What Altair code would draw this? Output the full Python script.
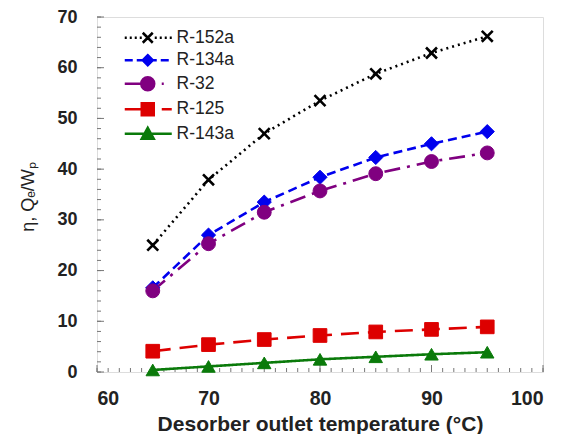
import altair as alt
import pandas as pd

# ---- data ----
series_names = ["R-152a", "R-134a", "R-32", "R-125", "R-143a"]
temps = [65, 70, 75, 80, 85, 90, 95]
r152a = [25.0, 37.9, 47.0, 53.5, 58.8, 62.9, 66.2]
r134a = [16.6, 27.0, 33.5, 38.4, 42.3, 45.0, 47.4]
r32 = [16.0, 25.3, 31.5, 35.7, 39.1, 41.5, 43.2]
r125 = [4.1, 5.4, 6.4, 7.2, 7.9, 8.4, 8.9]
r143a = [0.4, 1.1, 1.8, 2.5, 3.0, 3.5, 3.9]

x_minor_ticks = list(range(60, 101, 1))
x_major_ticks = [60, 70, 80, 90, 100]
y_minor_ticks = list(range(0, 71, 2))
y_major_ticks = [0, 10, 20, 30, 40, 50, 60, 70]

all_values = [r152a, r134a, r32, r125, r143a]
rows = []
for name, vals in zip(series_names, all_values):
    for t, v in zip(temps, vals):
        rows.append({"S": name, "T": t, "V": v})
df = pd.DataFrame(rows)

# ---- styles ----
colors = ["#000000", "#0000ee", "#800080", "#dd0000", "#0a7a0a"]
dashes = [[2, 4], [9, 5], [16, 7, 3, 7], [18, 9], [1, 0]]
W, H = 446, 355

# legend symbol paths (pixel coordinates divided by the symbol unit)
U = 7.0


def f(v):
    return f"{v / U:.3f}"


def seg(a, b):
    return f"M{f(a)},0L{f(b)},0"


def dash_run(start, end, on, off, skip=0):
    out = []
    p = start
    while p < end:
        q = min(p + on, end)
        if not (abs(p) < skip and abs(q) < skip):
            out.append(seg(p, q))
        p += on + off
    return "".join(out)


legend_paths = [
    dash_run(-23, 24, 2, 3, skip=7) + "M" + f(-5) + "," + f(-5) + "L" + f(5) + "," + f(5)
    + "M" + f(-5) + "," + f(5) + "L" + f(5) + "," + f(-5),
    dash_run(-23, 24, 8, 4) + f"M0,{f(-5)}L{f(5)},0L0,{f(5)}L{f(-5)},0Z",
    seg(-23, 7) + seg(14, 16)
    + f"M{f(6.5)},0A{f(6.5)},{f(6.5)},0,1,1,{f(-6.5)},0A{f(6.5)},{f(6.5)},0,1,1,{f(6.5)},0Z",
    seg(-23, 6) + seg(14, 24) + f"M{f(-6)},{f(-6)}L{f(6)},{f(-6)}L{f(6)},{f(6)}L{f(-6)},{f(6)}Z",
    seg(-23, 24) + f"M0,{f(-6)}L{f(6)},{f(5)}L{f(-6)},{f(5)}Z",
]

FONT = "Liberation Sans"
xs = alt.Scale(domain=[60, 100], nice=False, zero=False)
ys = alt.Scale(domain=[0, 70], nice=False)

x_axis = alt.Axis(values=x_major_ticks, domain=False, ticks=False, tickSize=0, grid=False,
                  labelPadding=17, labelFont=FONT, labelFontSize=19.5, labelFontWeight="bold",
                  labelColor="#222222", titleFont=FONT, titleFontSize=21, titleFontWeight="bold",
                  titleColor="#222222", titleY=58, titleBaseline="alphabetic")
y_axis = alt.Axis(values=y_major_ticks, domain=False, ticks=False, tickSize=0, grid=False,
                  labelPadding=20, labelFont=FONT, labelFontSize=18, labelFontWeight="bold",
                  labelColor="#222222", titleFont=FONT, titleFontSize=18, titleFontWeight="normal",
                  titleColor="#222222", titleX=-69, titleY=H / 2 + 2, titleBaseline="middle")
X_TITLE = "Desorber outlet temperature (°C)"
Y_TITLE = "η, Qₑ/Wₚ"


def xe():
    return alt.X("T:Q", scale=xs, title=X_TITLE, axis=x_axis)


def ye():
    return alt.Y("V:Q", scale=ys, title=Y_TITLE, axis=y_axis)


base = alt.Chart(df)
color_sc = alt.Scale(domain=series_names, range=colors)

lines = base.mark_line(strokeWidth=2.6).encode(
    x=xe(), y=ye(),
    color=alt.Color("S:N", scale=color_sc, legend=None),
    strokeDash=alt.StrokeDash("S:N", scale=alt.Scale(domain=series_names, range=dashes), legend=None),
)

cross_pts = base.transform_filter(alt.datum.S == "R-152a").mark_point(
    shape="M-1,-1L1,1M-1,1L1,-1", filled=False, size=120, strokeWidth=2.6, opacity=1, color="#000000"
).encode(x=xe(), y=ye())

other_names = series_names[1:]
other_pts = base.transform_filter(alt.datum.S != "R-152a").mark_point(
    filled=True, opacity=1, strokeWidth=1
).encode(
    x=xe(), y=ye(),
    color=alt.Color("S:N", scale=color_sc, legend=None),
    stroke=alt.Stroke("S:N", scale=color_sc, legend=None),
    shape=alt.Shape("S:N", scale=alt.Scale(domain=other_names,
                                           range=["diamond", "circle", "square", "triangle-up"]),
                    legend=None),
    size=alt.Size("S:N", scale=alt.Scale(domain=other_names, range=[200, 180, 150, 170]), legend=None),
)

leg = alt.Legend(
    title=None, orient="none", legendX=42, legendY=12, labelFont=FONT, labelFontSize=17.5,
    labelColor="#222222", symbolSize=196, symbolStrokeWidth=2.5, labelOffset=20, rowPadding=1.5,
    padding=0, symbolOpacity=1,
)
legend_layer = base.transform_filter("false").mark_point(filled=True, opacity=1).encode(
    x=xe(), y=ye(),
    color=alt.Color("S:N", scale=alt.Scale(domain=series_names, range=colors), legend=leg),
    stroke=alt.Stroke("S:N", scale=alt.Scale(domain=series_names, range=colors), legend=leg),
    shape=alt.Shape("S:N", scale=alt.Scale(domain=series_names, range=legend_paths), legend=leg),
)

tick_color = "#777777"
xminor = alt.Chart(pd.DataFrame({"T": x_minor_ticks})).mark_rule(color=tick_color, strokeWidth=1).encode(
    x=xe(), y=alt.value(H), y2=alt.value(H - 4))
xmajor = alt.Chart(pd.DataFrame({"T": x_major_ticks})).mark_rule(color=tick_color, strokeWidth=1).encode(
    x=xe(), y=alt.value(H), y2=alt.value(H - 7))
yminor = alt.Chart(pd.DataFrame({"V": y_minor_ticks})).mark_rule(color=tick_color, strokeWidth=1).encode(
    y=ye(), x=alt.value(0), x2=alt.value(4))
ymajor = alt.Chart(pd.DataFrame({"V": y_major_ticks})).mark_rule(color=tick_color, strokeWidth=1).encode(
    y=ye(), x=alt.value(0), x2=alt.value(7))

chart = alt.layer(
    xminor, xmajor, yminor, ymajor, lines, cross_pts, other_pts, legend_layer
).resolve_scale(
    color="independent", shape="independent", stroke="independent", size="independent"
).properties(
    width=W, height=H,
    autosize=alt.AutoSizeParams(type="none"),
    padding={"left": 89, "top": 9, "right": 18, "bottom": 62},
).configure_view(stroke="#8a8a8a", strokeWidth=1.5).configure(background="white")

chart.save("out.html", embed_options={"renderer": "svg", "actions": False})
